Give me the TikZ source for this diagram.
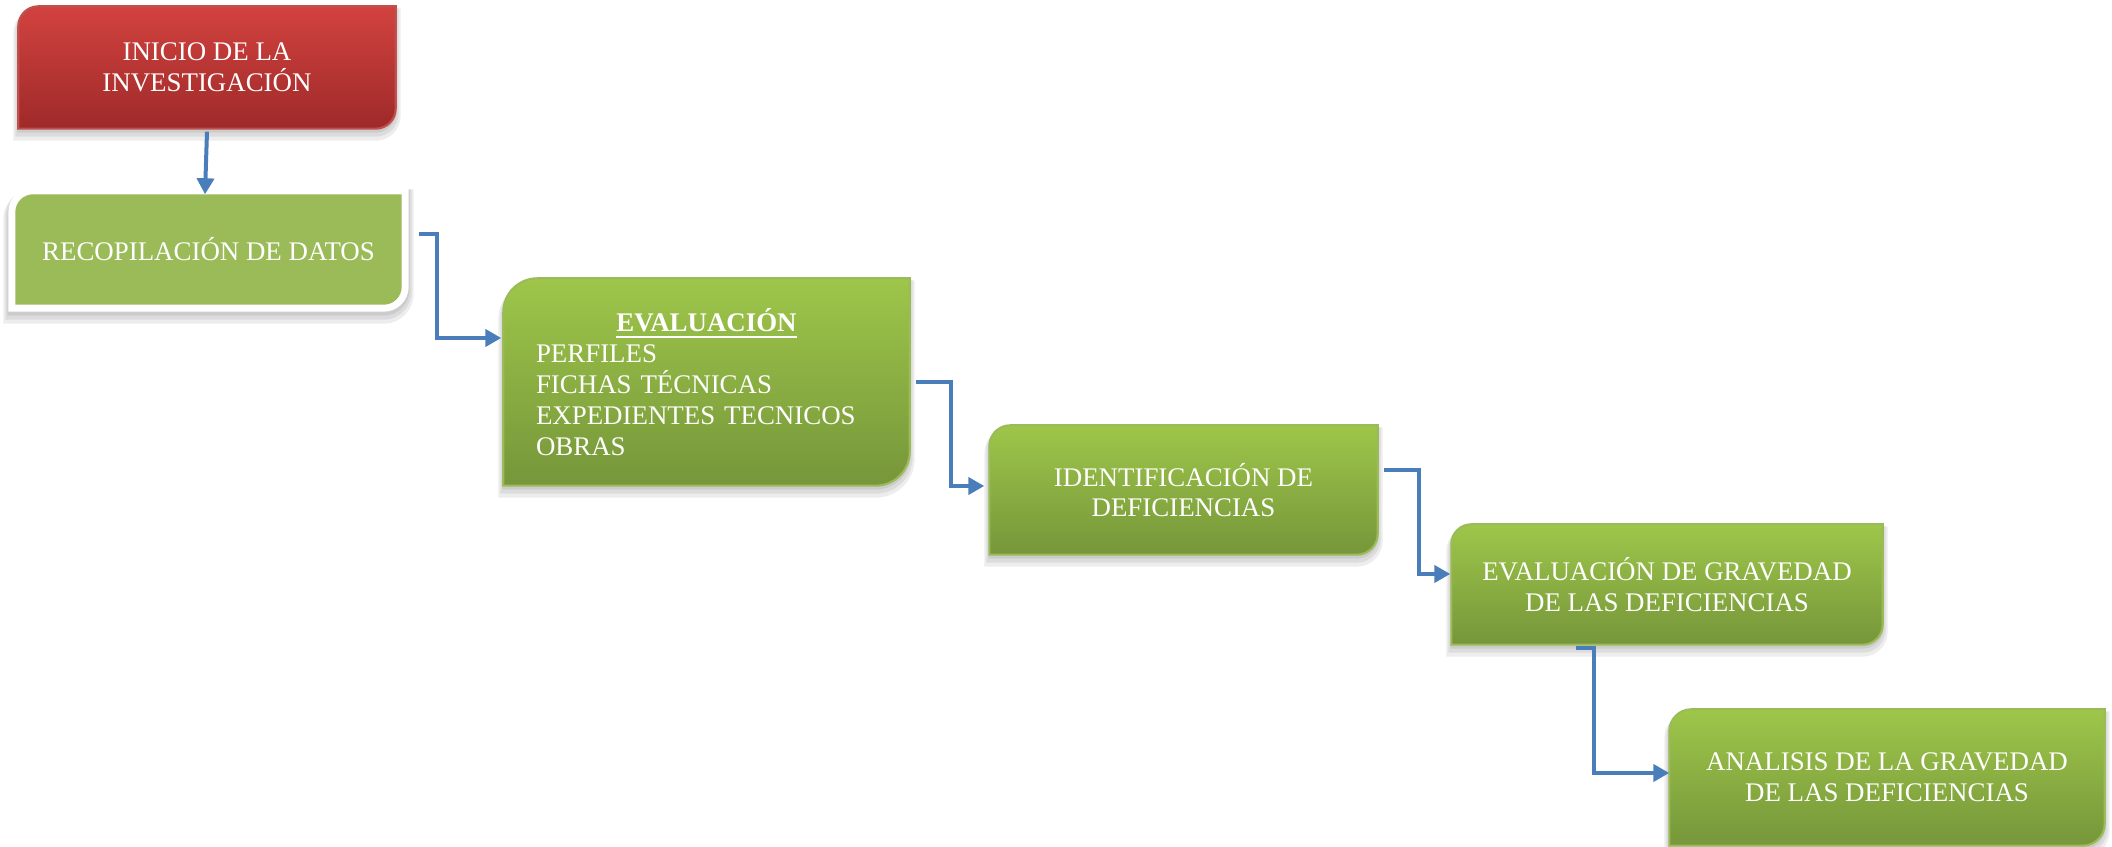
\documentclass[tikz,border=0pt]{standalone}
\usepackage{fontspec}
\setmainfont{Liberation Serif}
\usepackage{tikz}
\usetikzlibrary{arrows.meta,backgrounds}

\definecolor{rojoA}{HTML}{D2423F}
\definecolor{rojoB}{HTML}{9E2A29}
\definecolor{rojoBorde}{HTML}{C0504D}
\definecolor{verdeA}{HTML}{9EC64A}
\definecolor{verdeB}{HTML}{76963A}
\definecolor{verdeBorde}{HTML}{9BBB59}
\definecolor{verdePlano}{HTML}{9BBB59}
\definecolor{azulFlecha}{HTML}{4A7EBB}

% caja con esquinas redondeadas arriba-izquierda y abajo-derecha
\newcommand{\forma}[3]{([shift={(-#3,-#3)}]#1.south west) -- ([shift={(-#3,-#2)}]#1.north west) arc[start angle=180,end angle=90,radius=#2+#3] -- ([shift={(#3,#3)}]#1.north east) -- ([shift={(#3,#2)}]#1.south east) arc[start angle=0,end angle=-90,radius=#2+#3] -- cycle}

\tikzset{
	caja/.style={text=white, align=center, inner sep=0pt, font=\fontsize{7.65}{8.7}\selectfont},
	flecha/.style={line width=0.04cm, color=azulFlecha, -{Triangle[length=0.16cm,width=0.17cm]}},
	sombra/.style={fill=black, opacity=0.07}
}

\begin{document}
\begin{tikzpicture}
			%%%%% START %%%%%
			\useasboundingbox (0, 0) rectangle (21.12, -8.47);
			
			\node[caja, minimum width=3.76cm, minimum height=1.21cm] (inicio) at (2.07, -0.675) {INICIO DE LA\\INVESTIGACIÓN};
			\node[caja, minimum width=3.85cm, minimum height=1.09cm] (recop) at (2.085, -2.495) {RECOPILACIÓN DE DATOS};
			\node[caja, text width=3.41cm, inner xsep=0.32cm, minimum height=2.06cm, align=left, font=\fontsize{7.65}{8.8}\selectfont] (eval) at (7.065, -3.82)
				{{\centering\underline{\textbf{EVALUACIÓN}}\par}\raggedright PERFILES\\FICHAS TÉCNICAS\\EXPEDIENTES TECNICOS\\OBRAS};
			\node[caja, minimum width=3.87cm, minimum height=1.28cm] (ident) at (11.835, -4.90) {IDENTIFICACIÓN DE\\DEFICIENCIAS};
			\node[caja, minimum width=4.30cm, minimum height=1.19cm] (grav) at (16.67, -5.845) {EVALUACIÓN DE GRAVEDAD\\DE LAS DEFICIENCIAS};
			\node[caja, minimum width=4.34cm, minimum height=1.35cm] (anal) at (18.87, -7.775) {ANALISIS DE LA GRAVEDAD\\DE LAS DEFICIENCIAS};
			
			\begin{scope}[on background layer]
				% caja roja
				\foreach \s/\m in {0.03cm/0.01cm, 0.05cm/0.03cm, 0.07cm/0.05cm}
					\fill[sombra, transform canvas={yshift=-\s}] \forma{inicio}{0.2cm}{\m};
				\shade[top color=rojoA, bottom color=rojoB] \forma{inicio}{0.2cm}{0cm};
				\draw[rojoBorde, line width=0.6pt] \forma{inicio}{0.2cm}{0cm};
				
				% caja con marco blanco
				\foreach \s/\m in {0.03cm/0.08cm, 0.05cm/0.10cm, 0.07cm/0.12cm}
					\fill[sombra, transform canvas={yshift=-\s}] \forma{recop}{0.18cm}{\m};
				\fill[white] \forma{recop}{0.18cm}{0.07cm};
				\fill[verdePlano] \forma{recop}{0.18cm}{0cm};
				
				% cajas verdes
				\foreach \n/\r in {eval/0.34cm, ident/0.21cm, grav/0.2cm, anal/0.22cm}{
					\foreach \s/\m in {0.03cm/0.01cm, 0.05cm/0.03cm, 0.07cm/0.05cm}
						\fill[sombra, transform canvas={yshift=-\s}] \forma{\n}{\r}{\m};
					\shade[top color=verdeA, bottom color=verdeB] \forma{\n}{\r}{0cm};
					\draw[verdeBorde, line width=0.6pt] \forma{\n}{\r}{0cm};
				}
			\end{scope}
			
			\draw[flecha] ([yshift=-0.03cm]inicio.south) -- ([xshift=-0.035cm]recop.north);
			\draw[flecha] ([xshift=0.17cm, yshift=0.155cm]recop.east) -- ++(0.18, 0) |- ([xshift=-0.02cm, yshift=0.44cm]eval.west);
			\draw[flecha] ([xshift=0.06cm]eval.east) -- ++(0.35, 0) |- ([xshift=-0.05cm, yshift=0.04cm]ident.west);
			\draw[flecha] ([xshift=0.06cm, yshift=0.2cm]ident.east) -- ++(0.35, 0) |- ([xshift=-0.01cm, yshift=0.105cm]grav.west);
			\draw[flecha] ([xshift=-0.91cm, yshift=-0.03cm]grav.south) -- ++(0.18, 0) |- ([yshift=0.045cm]anal.west);
			
			%%%%% END %%%%%
\end{tikzpicture}
\end{document}
